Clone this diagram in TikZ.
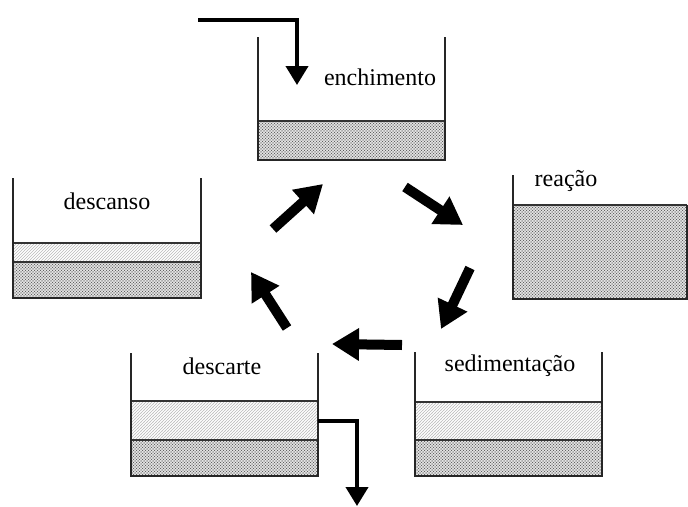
\documentclass[tikz,border=0pt]{standalone}
\usepackage{fontspec}
\setmainfont{Liberation Serif}
\usetikzlibrary{arrows.meta,patterns}

\tikzset{
  wall/.style={line width=1.6pt, draw=black!85},
  sludgebase/.style={fill=gray!18},
  sludgemesh/.style={pattern=crosshatch, pattern color=gray!45},
  sludge/.style={pattern=crosshatch dots, pattern color=black!70},
  clearlayer/.style={pattern=north east lines, pattern color=gray!55},
  dotlayer/.style={pattern=dots, pattern color=gray!45},
  layerline/.style={line width=1.2pt, draw=black!80},
  label/.style={font=\fontsize{24}{27}\selectfont, inner sep=0pt},
  cycle arrow/.style={line width=10pt, -{Triangle[width=31pt,length=27pt]}},
  pipe/.style={line width=4pt, -{Triangle[width=22pt,length=19pt]}},
}

\newcommand\sludgebox[2]{%
  \fill[sludgebase] #1 rectangle #2;
  \fill[sludgemesh] #1 rectangle #2;
  \fill[sludge] #1 rectangle #2;}

\begin{document}
\begin{tikzpicture}[x=1pt,y=-1pt]
\useasboundingbox (0,0) rectangle (688,506);

% ---------- fill tank (enchimento) ----------
\sludgebox{(258,121)}{(445,160)}
\draw[layerline] (258,121) -- (445,121);
\draw[wall] (258,37) -- (258,160) -- (445,160) -- (445,37);
\node[label] (enchimento) at (380,77) {enchimento};
\coordinate (inA) at (198,20);
\coordinate (inB) at (297,20);
\coordinate (inC) at (297,85);
\draw[pipe] (inA) -- (inB) -- (inC);

% ---------- reaction tank (reação) ----------
\sludgebox{(513,205)}{(687,299)}
\draw[layerline] (513,205) -- (687,205);
\draw[wall] (513,175) -- (513,299) -- (687,299) -- (687,205);
\node[label] (reacao) at (566,181) {reação};

% ---------- settling tank (sedimentação) ----------
\fill[dotlayer] (415,402) rectangle (602,440);
\fill[clearlayer] (415,402) rectangle (602,440);
\sludgebox{(415,440)}{(602,476)}
\draw[layerline] (415,402) -- (602,402);
\draw[layerline] (415,440) -- (602,440);
\draw[wall] (415,352) -- (415,476) -- (602,476) -- (602,352);
\node[label] (sedimentacao) at (510,366) {sedimentação};

% ---------- draw-off tank (descarte) ----------
\fill[dotlayer] (131,401) rectangle (318,440);
\fill[clearlayer] (131,401) rectangle (318,440);
\sludgebox{(131,440)}{(318,476)}
\draw[layerline] (131,401) -- (318,401);
\draw[layerline] (131,440) -- (318,440);
\draw[wall] (131,353) -- (131,476) -- (318,476) -- (318,353);
\node[label] (descarte) at (222,366) {descarte};
\coordinate (outA) at (318,421);
\coordinate (outB) at (357,421);
\coordinate (outC) at (357,506);
\draw[pipe] (outA) -- (outB) -- (outC);

% ---------- idle tank (descanso) ----------
\fill[clearlayer] (13,243) rectangle (201,262);
\sludgebox{(13,262)}{(201,298)}
\draw[layerline] (13,243) -- (201,243);
\draw[layerline] (13,262) -- (201,262);
\draw[wall] (13,178) -- (13,298) -- (201,298) -- (201,178);
\node[label] (descanso) at (107,201) {descanso};

% ---------- cycle arrows ----------
\coordinate (a1s) at (273,229);
\coordinate (a1e) at (323,184);
\coordinate (a2s) at (405,187);
\coordinate (a2e) at (463,225);
\coordinate (a3s) at (470,268);
\coordinate (a3e) at (441,329);
\coordinate (a4s) at (402,345);
\coordinate (a4e) at (332,344);
\coordinate (a5s) at (287,328);
\coordinate (a5e) at (251,272);
\draw[cycle arrow] (a1s) -- (a1e);
\draw[cycle arrow] (a2s) -- (a2e);
\draw[cycle arrow] (a3s) -- (a3e);
\draw[cycle arrow] (a4s) -- (a4e);
\draw[cycle arrow] (a5s) -- (a5e);
\end{tikzpicture}
\end{document}
